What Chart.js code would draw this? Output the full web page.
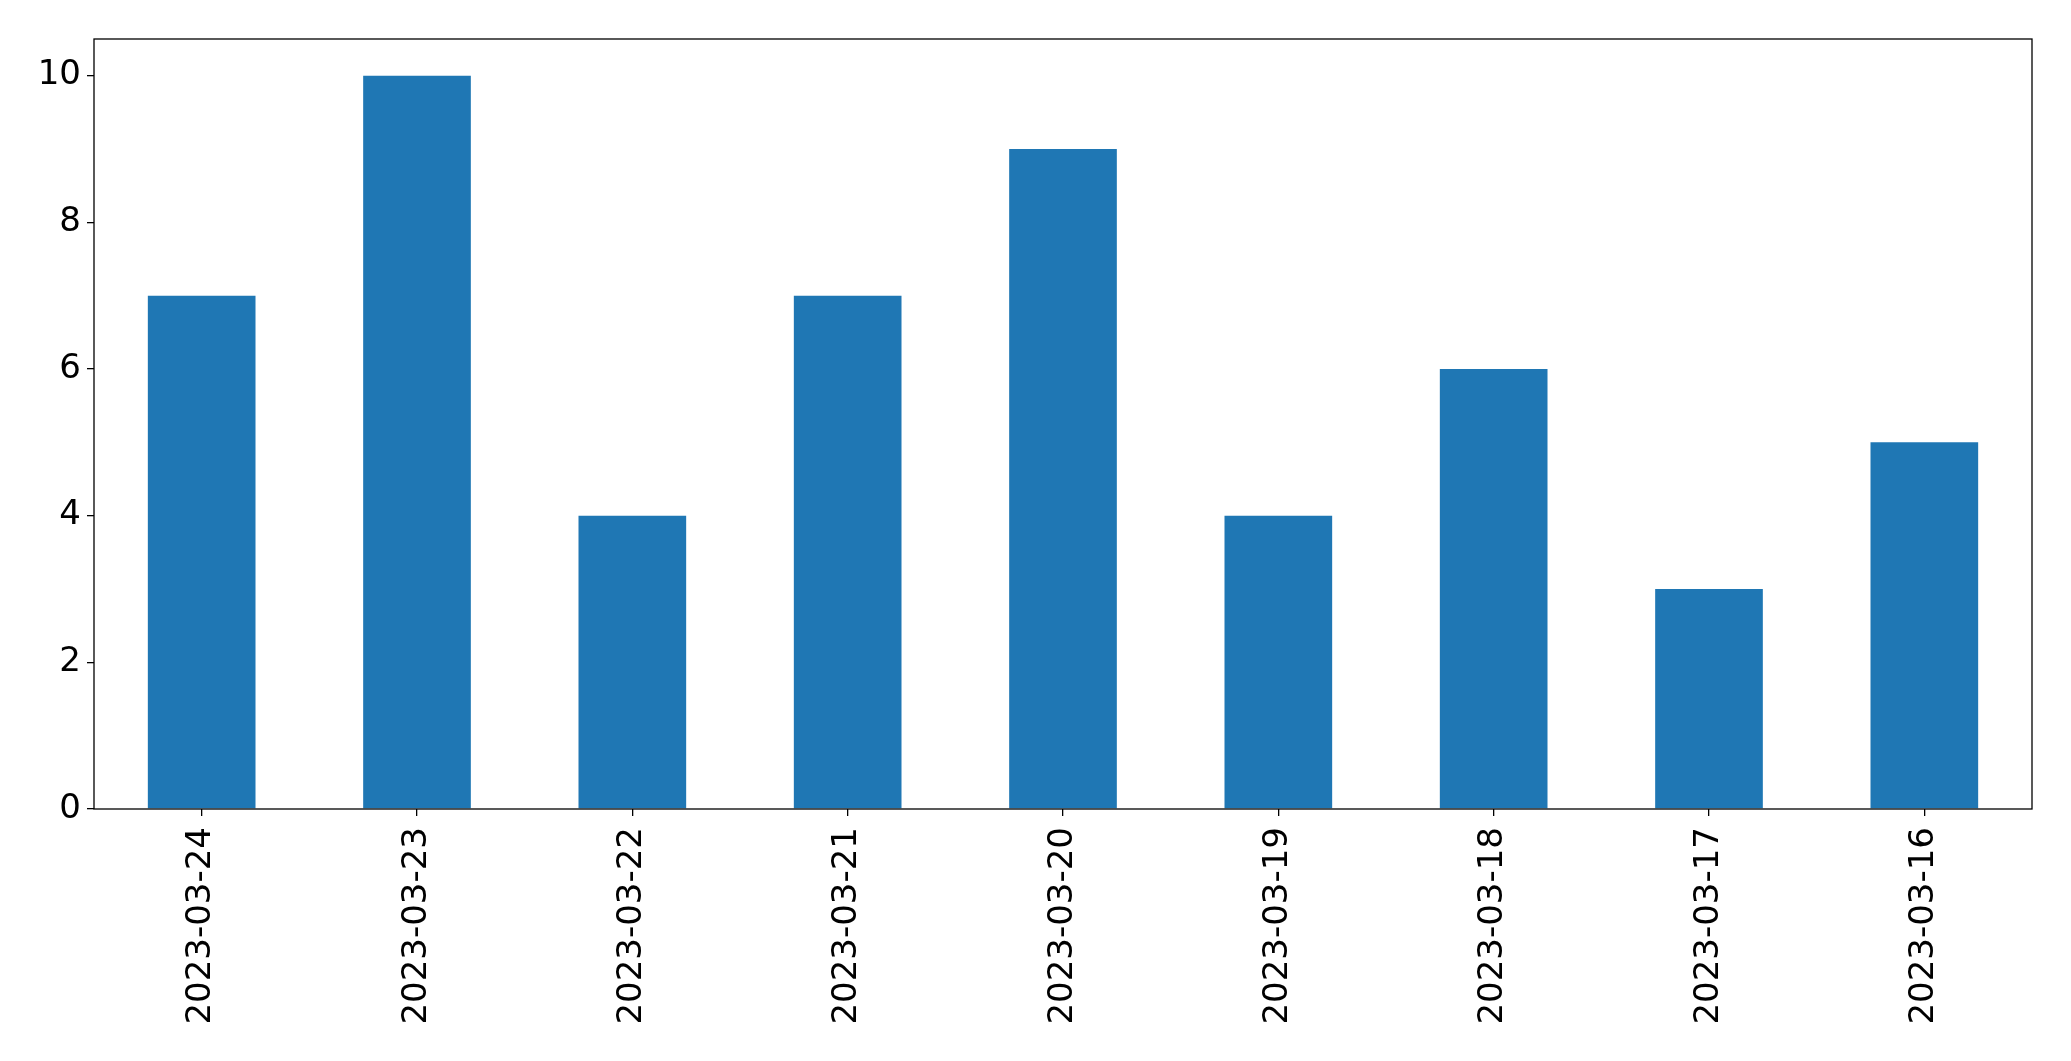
<!DOCTYPE html>
<html>
<head>
<meta charset="utf-8">
<script src="https://cdn.jsdelivr.net/npm/chart.js@4/dist/chart.umd.min.js"></script>
<style>
  html, body { margin: 0; padding: 0; background: #fff; }
  #wrap { width: 2071px; height: 1061px; }
</style>
</head>
<body>
<div id="wrap"><canvas id="chart" width="2071" height="1061"></canvas></div>
<script>
const dates = ['2023-03-24', '2023-03-23', '2023-03-22', '2023-03-21', '2023-03-20',
  '2023-03-19', '2023-03-18', '2023-03-17', '2023-03-16'];
const counts = [7, 10, 4, 7, 9, 4, 6, 3, 5];
const yTicks = [0, 2, 4, 6, 8, 10];

// box around the plot area, like matplotlib's spines
const frame = {
  id: 'frame',
  afterDatasetsDraw(chart) {
    const a = chart.chartArea, ctx = chart.ctx;
    ctx.save();
    ctx.strokeStyle = '#000';
    ctx.lineWidth = 1.3;
    ctx.strokeRect(a.left, a.top, a.right - a.left, a.bottom - a.top);
    ctx.restore();
  }
};

const font = { family: 'DejaVu Sans', size: 34 };

new Chart(document.getElementById('chart'), {
  type: 'bar',
  data: {
    labels: dates,
    datasets: [{
      data: counts,
      backgroundColor: '#1f77b4',
      barPercentage: 0.5,
      categoryPercentage: 1.0
    }]
  },
  options: {
    responsive: false,
    animation: false,
    devicePixelRatio: 1,
    layout: { padding: { top: 39, right: 39, left: 0, bottom: 0 } },
    plugins: { legend: { display: false }, tooltip: { enabled: false } },
    scales: {
      x: {
        grid: { offset: false, drawOnChartArea: false, color: '#000', tickLength: 7, lineWidth: 1.3 },
        border: { display: false },
        ticks: { color: '#000', font: font, minRotation: 90, maxRotation: 90, padding: 11 },
        afterFit(s) { s.height = 252; }
      },
      y: {
        min: 0,
        max: 10.5,
        grid: { drawOnChartArea: false, color: '#000', tickLength: 7, lineWidth: 1.3 },
        border: { display: false },
        ticks: { color: '#000', font: font, padding: 6 },
        afterBuildTicks(s) { s.ticks = yTicks.map(v => ({ value: v })); },
        afterFit(s) { s.width = 94; }
      }
    }
  },
  plugins: [frame]
});
</script>
</body>
</html>
